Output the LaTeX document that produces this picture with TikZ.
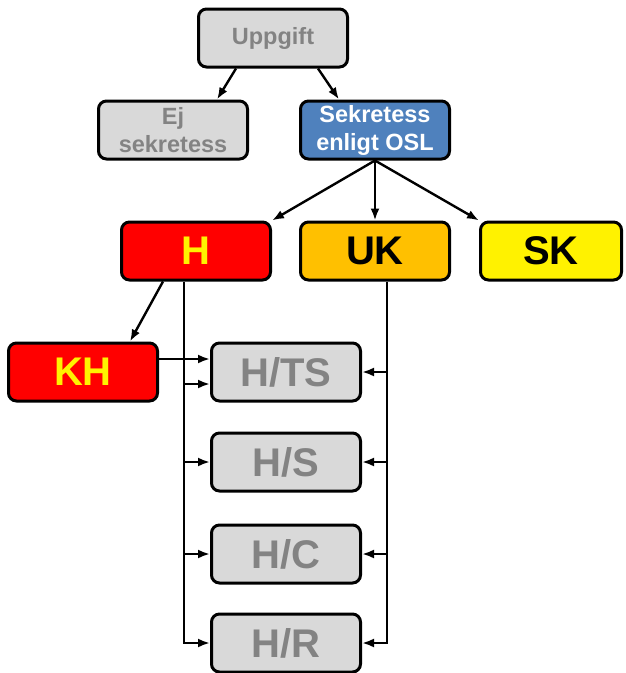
\documentclass[tikz,border=0pt]{standalone}
\usepackage{fontspec}
\setmainfont{Liberation Sans}
\usetikzlibrary{arrows.meta}
\definecolor{boxgray}{HTML}{D9D9D9}
\definecolor{textgray}{HTML}{838383}
\definecolor{oslblue}{HTML}{4F81BD}
\definecolor{ukorange}{HTML}{FFC000}
\tikzset{
  box/.style = {
    draw, rounded corners = 8pt, line width = 3pt, inner sep = 0pt,
    minimum width = 149pt, minimum height = 58pt, align = center }
}

\begin{document}
\begin{tikzpicture}[x=1pt,y=-1pt,
small_style/.style={box,font=\fontsize{23.5}{28}\selectfont\bfseries},
big_style/.style={box,font=\fontsize{40}{44}\selectfont\bfseries},
gray_style/.style={fill=boxgray,text=textgray},
edge_style/.style={-{Latex[length=12pt,width=9pt]},line width=2.4pt}]

\useasboundingbox (0,0) rectangle (625,673);

\node[small_style,gray_style] (upp) at (273,38) {Uppgift};
\node[small_style,gray_style] (ej) at (173,130) {Ej\\sekretess};
\node[small_style,fill=oslblue,text=white] (osl) at (375,130) {Sekretess\\enligt OSL};

\node[big_style,fill=red,text=yellow] (h) at (196,251) {H};
\node[big_style,fill=ukorange] (uk) at (375,251) {UK};
\node[big_style,fill=yellow,minimum width=141pt] (sk) at (551,251) {SK};
\node[big_style,fill=red,text=yellow] (kh) at (83,372) {KH};

\foreach \y/\n/\t in {372/hts/TS,462/hs/S,554/hc/C,643/hr/R}{
 \node[big_style,gray_style] (\n) at (286,\y) {H/\t};
}

\draw[edge_style] ([xshift=-37pt]upp.south) -- ([xshift=44pt]ej.north);
\draw[edge_style] ([xshift=45pt]upp.south) -- ([xshift=-36pt]osl.north);

\draw[edge_style] (osl.south) -- (h.north east);
\draw[edge_style] (osl.south) -- (uk.north);
\draw[edge_style] (osl.south) -- (sk.north west);

\draw[edge_style] ([xshift=-33pt]h.south) -- ([xshift=47pt]kh.north);
\draw[edge_style] ([yshift=13pt]kh.east) -- ([yshift=13pt]hts.west);

\coordinate (hl) at ([xshift=-12pt]h.south);
\coordinate (ur) at ([xshift=12pt]uk.south);
\coordinate (ts_in) at ([yshift=-12pt]hts.west);

\draw[edge_style] (hl) |- (hr.west);
\draw[edge_style] (hl |- ts_in) -- (ts_in);
\foreach \n in {hs,hc}{
 \draw[edge_style] (hl |- \n.west) -- (\n.west);
}

\draw[edge_style] (ur) |- (hr.east);
\foreach \n in {hts,hs,hc}{
 \draw[edge_style] (ur |- \n.east) -- (\n.east);
}
\end{tikzpicture}
\end{document}
